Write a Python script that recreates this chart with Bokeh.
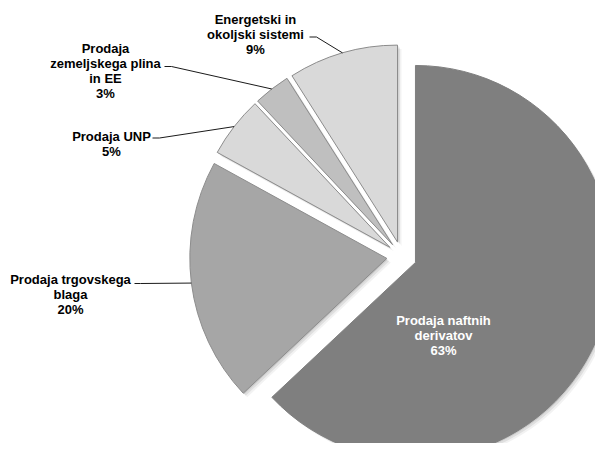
import math
from bokeh.plotting import figure
from bokeh.models import ColumnDataSource, Range1d
from bokeh.embed import file_html
from bokeh.resources import INLINE
from bokeh.core.properties import value

# ---- data ----
categories = ["Prodaja naftnih derivatov", "Prodaja trgovskega blaga", "Prodaja UNP",
              "Prodaja zemeljskega plina in EE", "Energetski in okoljski sistemi"]
shares = [63, 20, 5, 3, 9]
label_lines = [["Prodaja naftnih", "derivatov"],
               ["Prodaja trgovskega", "blaga"],
               ["Prodaja UNP"],
               ["Prodaja", "zemeljskega plina", "in EE"],
               ["Energetski in", "okoljski sistemi"]]

# ---- style / layout ----
colors = ["#7f7f7f", "#a6a6a6", "#d9d9d9", "#bfbfbf", "#d9d9d9"]
edge_colors = ["#7f7f7f", "#8c8c8c", "#8c8c8c", "#8c8c8c", "#8c8c8c"]
text_colors = ["white", "black", "black", "black", "black"]
W, H = 595, 443
REF_H = 459
cx, cy_ref = 401.2, 256.0
R = 197.0
EXPLODE = 15.0
label_pos = [(443, 335), (70, 293.7), (111, 143), (105, 70.7), (255, 33.8)]
leader_pts = [None, [(134, 283), (140, 283)], [(152, 137.5), (159, 137.5)],
              [(164, 66), (171, 66)], [(309, 36.5), (316, 36.5)]]

def Y(py):
    return REF_H - py

cy = Y(cy_ref)
total = float(sum(shares))

xs, ys, sa, ea = [], [], [], []
arc_pts = []
t = 0.0
for s in shares:
    t1 = t
    t2 = t + 360.0 * s / total
    t = t2
    bis = math.radians((t1 + t2) / 2)
    ox = cx + EXPLODE * math.sin(bis)
    oy = cy + EXPLODE * math.cos(bis)
    xs.append(ox)
    ys.append(oy)
    sa.append(math.radians(90.0 - t2))
    ea.append(math.radians(90.0 - t1))
    arc_pts.append((ox + R * math.sin(bis), oy + R * math.cos(bis)))

src = ColumnDataSource(dict(x=xs, y=ys, sa=sa, ea=ea, color=colors, edge=edge_colors, cat=categories))

p = figure(width=W, height=H, output_backend="svg", toolbar_location=None,
           x_range=Range1d(0, W), y_range=Range1d(REF_H - H, REF_H),
           min_border=0, outline_line_color=None)
p.axis.visible = False
p.xgrid.visible = False
p.ygrid.visible = False
p.background_fill_color = "white"
p.border_fill_color = "white"

for off, a in [(1.0, 0.10), (2.5, 0.08), (4.0, 0.05)]:
    sh = ColumnDataSource(dict(x=[v + off for v in xs], y=[v - off for v in ys], sa=sa, ea=ea))
    p.wedge(x="x", y="y", radius=R, start_angle="sa", end_angle="ea",
            source=sh, fill_color="black", fill_alpha=a, line_color=None)

p.wedge(x="x", y="y", radius=R, start_angle="sa", end_angle="ea",
        source=src, fill_color="color", line_color="edge", line_width=1)

for i, pts in enumerate(leader_pts):
    if pts is None:
        continue
    lx = [pts[0][0], pts[1][0], arc_pts[i][0]]
    ly = [Y(pts[0][1]), Y(pts[1][1]), arc_pts[i][1]]
    p.line(lx, ly, line_color="#1a1a1a", line_width=1)

texts = ["\n".join(lines + ["%d%%" % s]) for lines, s in zip(label_lines, shares)]
lab = ColumnDataSource(dict(x=[q[0] for q in label_pos], y=[Y(q[1]) for q in label_pos],
                            t=texts, c=text_colors))
p.text(x="x", y="y", text="t", source=lab, text_color="c", text_align="center",
       text_baseline="middle", text_font=value("Liberation Sans"), text_font_style="bold",
       text_font_size="13px", text_line_height=1.0)

open("out.html", "w").write(file_html(p, INLINE))
